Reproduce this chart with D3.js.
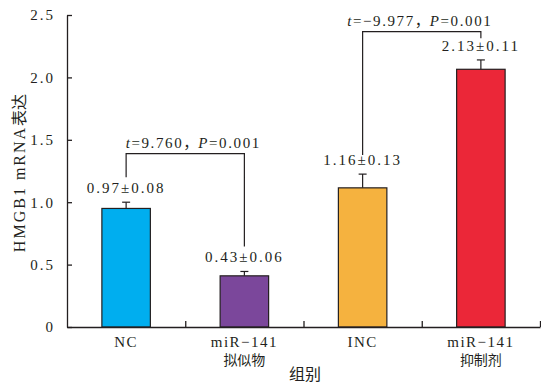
<!DOCTYPE html>
<html>
<head>
<meta charset="utf-8">
<script src="https://cdn.jsdelivr.net/npm/d3@7"></script>
<style>
  body { margin: 0; background: #fff; }
  svg text { font-family: "Times New Roman", Tinos, "Noto Sans CJK SC", serif; fill: #231f20; }
  svg text.cjk, svg tspan.cjk { font-family: "Noto Sans CJK SC", sans-serif; }
</style>
</head>
<body>
<svg id="chart" width="541" height="385"></svg>
<script>
// data
const groups = ['NC', 'miR-141 mimic', 'INC', 'miR-141 inhibitor'];
const labelLine1 = ['NC', 'miR\u2212141', 'INC', 'miR\u2212141'];
const labelLine2 = ['', '拟似物', '', '抑制剂'];
const means = [0.95, 0.41, 1.115, 2.065];
const errs = [0.05, 0.035, 0.11, 0.075];
const valueLabels = ['0.97\u00b10.08', '0.43\u00b10.06', '1.16\u00b10.13', '2.13\u00b10.11'];
const colors = ['#00aeef', '#7b479b', '#f5b23f', '#eb2738'];
const yTicks = [0, 0.5, 1.0, 1.5, 2.0, 2.5];

// comparisons: [left group, right group], levels [left foot, top, right foot]
const compPairs = [[0, 1], [2, 3]];
const compLevels = [[1.20, 1.39, 0.645], [1.378, 2.366, 2.313]];
const compT = ['9.760', '\u22129.977'];
const compP = ['0.001', '0.001'];

const svg = d3.select('#chart');
const plotLeft = 67, plotRight = 540, plotTop = 15, plotBottom = 327;

const x = d3.scaleBand().domain(groups).range([plotLeft, plotRight]).paddingInner(0.59).paddingOuter(0.295);
const xLin = d3.scaleLinear().domain([0, groups.length]).range([plotLeft, plotRight]);
const y = d3.scaleLinear().domain([0, 2.5]).range([plotBottom, plotTop]);
const cx = (i) => x(groups[i]) + x.bandwidth() / 2;

const ink = '#231f20';

// bars
svg.append('g').selectAll('rect').data(means).enter().append('rect')
  .attr('x', (d, i) => x(groups[i]))
  .attr('y', (d) => y(d))
  .attr('width', x.bandwidth())
  .attr('height', (d) => y(0) - y(d))
  .attr('fill', (d, i) => colors[i])
  .attr('stroke', ink).attr('stroke-width', 1.2);

// error bars
const eb = svg.append('g').attr('stroke', ink).attr('stroke-width', 1.2);
means.forEach((m, i) => {
  eb.append('line').attr('x1', cx(i)).attr('x2', cx(i)).attr('y1', y(m)).attr('y2', y(m + errs[i]));
  eb.append('line').attr('x1', cx(i) - 4).attr('x2', cx(i) + 4).attr('y1', y(m + errs[i])).attr('y2', y(m + errs[i]));
});

// value labels
svg.append('g').selectAll('text').data(valueLabels).enter().append('text')
  .attr('x', (d, i) => cx(i))
  .attr('y', (d, i) => y(means[i] + errs[i]) - 9)
  .attr('text-anchor', 'middle')
  .attr('font-size', 15).attr('letter-spacing', 2)
  .text((d) => d);

// comparison brackets
compPairs.forEach((p, k) => {
  const [a, b] = p;
  const [l, t, r] = compLevels[k];
  svg.append('path')
    .attr('d', `M${cx(a)},${y(l)}V${y(t)}H${cx(b)}V${y(r)}`)
    .attr('fill', 'none').attr('stroke', ink).attr('stroke-width', 1.2);
  const tx = svg.append('text')
    .attr('x', (cx(a) + cx(b)) / 2 + (k === 0 ? 8 : -2))
    .attr('y', y(t) - 6)
    .attr('text-anchor', 'middle')
    .attr('font-size', 15).attr('letter-spacing', 1.6);
  tx.append('tspan').attr('font-style', 'italic').text('t');
  tx.append('tspan').text('=' + compT[k]);
  tx.append('tspan').attr('class', 'cjk').attr('letter-spacing', 0).text('，');
  tx.append('tspan').attr('font-style', 'italic').text('P');
  tx.append('tspan').text('=' + compP[k]);
});

// y axis
const yAxis = d3.axisLeft(y).tickValues(yTicks).tickSizeInner(-5).tickSizeOuter(0).tickPadding(12)
  .tickFormat((d) => d === 0 ? '0' : d3.format('.1f')(d));
const yg = svg.append('g').attr('transform', `translate(${plotLeft},0)`).call(yAxis);
yg.selectAll('path, line').attr('stroke', ink).attr('stroke-width', 1.3);
yg.selectAll('text').attr('font-size', 15).attr('letter-spacing', 2).attr('fill', ink);

// x axis line with ticks between groups
const xAxis = d3.axisBottom(xLin).tickValues([1, 2, 3, 4]).tickSizeInner(-6).tickSizeOuter(0).tickFormat('');
const xg = svg.append('g').attr('transform', `translate(0,${plotBottom})`).call(xAxis);
xg.selectAll('path, line').attr('stroke', ink).attr('stroke-width', 1.3);

// category labels
const cl = svg.append('g').attr('font-size', 15).attr('text-anchor', 'middle');
groups.forEach((g, i) => {
  cl.append('text').attr('x', cx(i)).attr('y', plotBottom + 20).attr('letter-spacing', 1.5).text(labelLine1[i]);
  if (labelLine2[i]) {
    cl.append('text').attr('class', 'cjk').attr('x', cx(i)).attr('y', plotBottom + 38)
      .attr('font-size', 14).text(labelLine2[i]);
  }
});

// axis titles
svg.append('text').attr('class', 'cjk').attr('x', 305).attr('y', 380).attr('text-anchor', 'middle')
  .attr('font-size', 16).text('组别');

const yt = svg.append('text').attr('transform', 'translate(25,173) rotate(-90)')
  .attr('text-anchor', 'middle').attr('font-size', 16).attr('letter-spacing', 2);
yt.append('tspan').text('HMGB1 mRNA');
yt.append('tspan').attr('class', 'cjk').attr('letter-spacing', 0).text('表达');
</script>
</body>
</html>
